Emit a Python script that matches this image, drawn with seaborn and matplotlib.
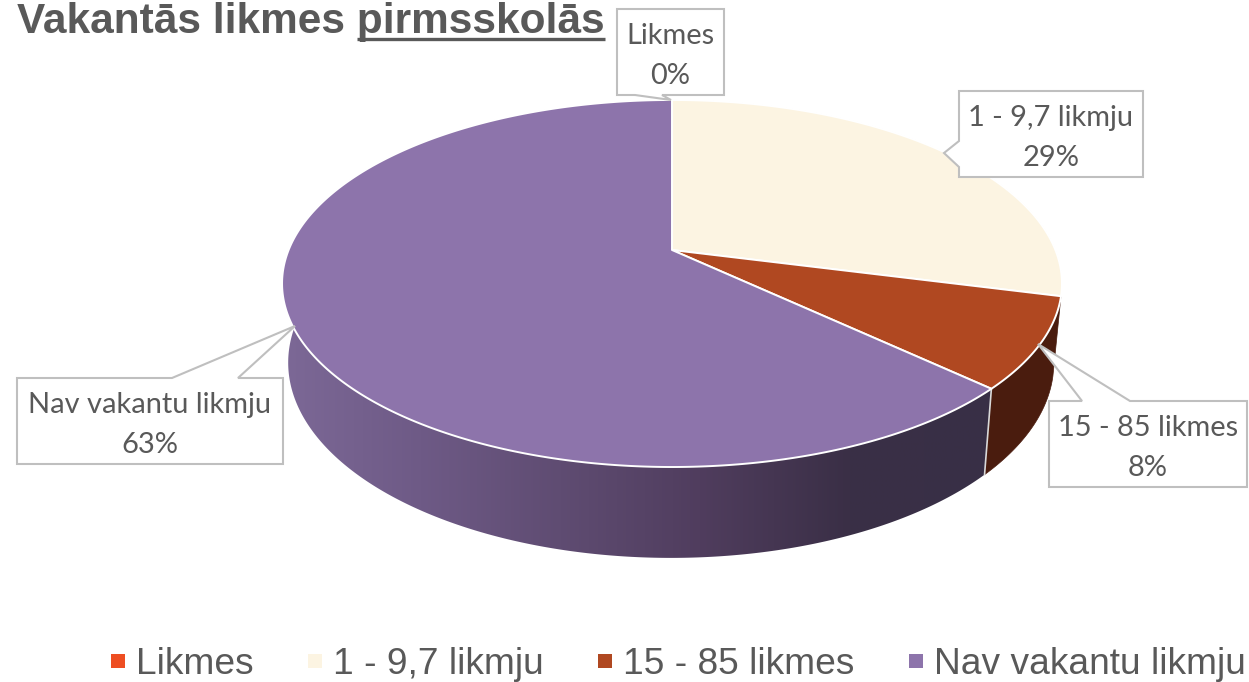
import numpy as np
import matplotlib
matplotlib.use("Agg")
import matplotlib.pyplot as plt
from matplotlib.colors import LinearSegmentedColormap
from matplotlib.lines import Line2D
from matplotlib.patches import Polygon
import seaborn as sns

# ---- data
categories = ["Likmes", "1 - 9,7 likmju", "15 - 85 likmes", "Nav vakantu likmju"]
values = [0, 29, 8, 63]
shown_percent = ["0%", "29%", "8%", "63%"]
title_lead = "Vakantās likmes "
title_word = "pirmsskolās"

slice_colors = ["#EE4E22", "#FCF4E2", "#B04821", "#8D74AB"]
wall_brown = "#4A1C0E"
wall_stops_x = [285, 420, 560, 700, 850, 1000]
wall_stops_c = ["#7C6896", "#6E5A86", "#5F4C72", "#503D5E", "#3A2F46", "#383046"]
text_color = "#595959"
box_edge = "#BFBFBF"

sns.set_theme(style="white")
palette = sns.color_palette(slice_colors)

fig = plt.figure(figsize=(12.49, 6.82), dpi=100)
ax = fig.add_axes([0, 0, 1, 1])

# ---- perspective projection of the disc
CX, CY = 672.0, 250.0
P, A, B = 0.1825, 177.4, 383.4
S_X, WALL_X, WALL_Y, S_Y = 0.9817, 671.0, 327.0, 1.064


def top_rim(theta):
    u, v = np.sin(theta), np.cos(theta)
    w = 1 + P * v
    return CX + B * u / w, CY - A * v / w


def bottom_rim(theta):
    x, y = top_rim(theta)
    return WALL_X + S_X * (x - CX), WALL_Y + S_Y * (y - CY)


fractions = np.array(values, dtype=float) / np.sum(values)
edges = np.concatenate([[0.0], np.cumsum(fractions)]) * 2 * np.pi


def wall_outline(t0, t1, n=200):
    t = np.linspace(t0, t1, n)
    xt, yt = top_rim(t)
    xb, yb = bottom_rim(t)
    return np.column_stack([np.r_[xt, xb[::-1]], np.r_[yt, yb[::-1]]])


# walls visible from the front
ax.add_patch(Polygon(wall_outline(edges[2], edges[3]), closed=True, facecolor=wall_brown,
                     edgecolor=wall_brown, lw=0.5, zorder=1))

span = wall_stops_x[-1] - wall_stops_x[0]
cmap = LinearSegmentedColormap.from_list(
    "wall", [((x - wall_stops_x[0]) / span, c) for x, c in zip(wall_stops_x, wall_stops_c)])
purple_outline = Polygon(wall_outline(edges[3], np.deg2rad(275), 300), closed=True,
                         facecolor="none", edgecolor="none", zorder=1,
                         transform=ax.transData)
ax.add_patch(purple_outline)
img = ax.imshow(np.linspace(0, 1, 512)[None, :], cmap=cmap, aspect="auto", zorder=1,
                extent=(wall_stops_x[0], wall_stops_x[-1], 600, 250),
                interpolation="bilinear")
img.set_clip_path(purple_outline)

ax.set_xlim(0, 1249)
ax.set_ylim(682, 0)
ax.axis("off")

x0, y0 = top_rim(edges[3])
x1, y1 = bottom_rim(edges[3])
ax.plot([x0, x1], [y0, y1], color="#D9D9D9", lw=1.2, zorder=2)

# top face
for i in range(4):
    if values[i] == 0:
        continue
    t = np.linspace(edges[i], edges[i + 1], max(3, int(fractions[i] * 720)))
    x, y = top_rim(t)
    pts = np.column_stack([np.r_[CX, x], np.r_[CY, y]])
    ax.add_patch(Polygon(pts, closed=True, facecolor=palette[i],
                         edgecolor="white", lw=1.4, zorder=3, joinstyle="round"))

# ---- callouts (box, pointer)
callouts = [
    ((617, 9, 724, 95), [(635, 95), (671, 100), (662, 95)], "bottom"),
    ((959, 91, 1143, 177), [(959, 141), (944, 153), (959, 167)], "left"),
    ((1049, 401, 1247, 487), [(1082, 401), (1038, 344), (1130, 401)], "top"),
    ((17, 378, 283, 464), [(172, 378), (295, 326), (238, 378)], "top"),
]
for (name, pct, (box, ptr, side)) in zip(categories, shown_percent, callouts):
    l, t, r, b = box
    if side == "bottom":
        outline = [(l, t), (r, t), (r, b), ptr[2], ptr[1], ptr[0], (l, b)]
    elif side == "left":
        outline = [(l, t), (r, t), (r, b), (l, b), ptr[2], ptr[1], ptr[0]]
    else:
        outline = [(l, t), ptr[0], ptr[1], ptr[2], (r, t), (r, b), (l, b)]
    ax.add_patch(Polygon(outline, closed=True, facecolor="white", edgecolor=box_edge,
                         lw=1.5, zorder=5, joinstyle="miter"))
    cx = (l + r) / 2
    for txt, yoff in ((name, 27), (pct, 67)):
        ax.text(cx, t + yoff, txt, ha="center", va="center", fontsize=20.9,
                family="Lato", color=text_color, zorder=6)

# ---- title with underlined last word
title = ax.text(17, 33, title_lead + title_word, fontsize=30.5, fontweight="bold",
                family="Liberation Sans", color=text_color, va="baseline", ha="left")
fig.canvas.draw()
r = fig.canvas.get_renderer()
whole = title.get_window_extent(r)
probe = ax.text(0, 0, title_word, fontsize=30.5, fontweight="bold",
                family="Liberation Sans")
word_w = probe.get_window_extent(r).width
probe.remove()
ax.plot([whole.x1 - word_w, whole.x1], [39, 39], color=text_color, lw=2.4,
        solid_capstyle="butt", zorder=4)

# ---- legend
handles = [Line2D([], [], ls="", marker="s", ms=10, color=c, mew=0) for c in palette]
ax.legend(handles, categories, loc="center left", bbox_to_anchor=(111, 664),
          bbox_transform=ax.transData, ncols=4, frameon=False,
          prop={"family": "Liberation Sans", "size": 26.7}, labelcolor=text_color,
          handlelength=0.38, handletextpad=0.3, columnspacing=1.46, borderpad=0,
          borderaxespad=0)

fig.savefig("out.png", dpi=100, facecolor="white")
